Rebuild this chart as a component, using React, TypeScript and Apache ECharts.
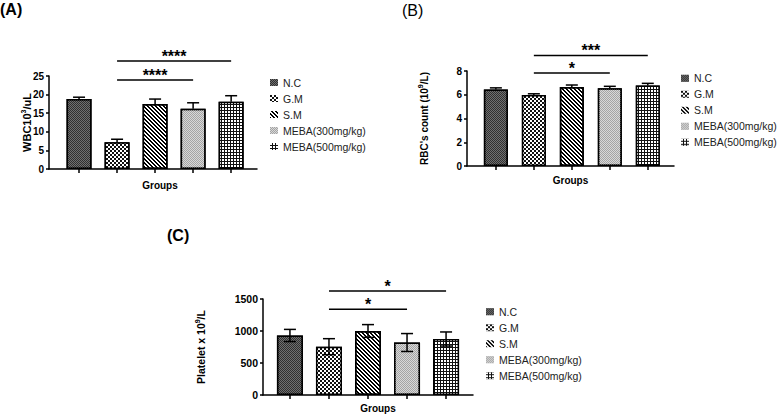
import React, { useEffect, useRef } from 'react';
import * as echarts from 'echarts';

// ---- data ----
const groups = ['N.C', 'G.M', 'S.M', 'MEBA(300mg/kg)', 'MEBA(500mg/kg)'];
const positions = [0, 1, 2, 3, 4];

const wbcMean = [18.8, 7.2, 17.5, 16.2, 18.1];
const wbcErr = [0.5, 0.8, 1.3, 1.6, 1.6];
const rbcMean = [6.45, 5.98, 6.65, 6.55, 6.78];
const rbcErr = [0.13, 0.1, 0.17, 0.16, 0.18];
const pltMean = [930, 755, 1000, 820, 875];
const pltErr = [95, 125, 100, 140, 110];

// significance brackets: [from group, to group, height]
const wbcSig = [[1, 4, 29], [1, 3, 23.9]];
const wbcSigLabels = ['****', '****'];
const rbcSig = [[1, 4, 9.3], [1, 3, 7.83]];
const rbcSigLabels = ['***', '*'];
const pltSig = [[1, 4, 1625], [1, 3, 1338]];
const pltSigLabels = ['*', '*'];

// y axis ranges: [min, max, interval]
const wbcAxis = [0, 25, 5];
const rbcAxis = [0, 8, 2];
const pltAxis = [0, 1500, 500];

const FONT = '"Liberation Sans", Arial, Helvetica, sans-serif';

const styles = [
  { color: '#303030', decal: { symbol: 'rect', symbolSize: 1, color: '#707070', dashArrayX: [[1, 1], [0, 1, 1, 0]], dashArrayY: [1, 0] } },
  { color: '#111111', decal: { symbol: 'rect', symbolSize: 1, color: '#ffffff', dashArrayX: [[2, 2], [0, 2, 2, 0]], dashArrayY: [2, 0] } },
  { color: '#ffffff', decal: { symbol: 'rect', symbolSize: 1, color: '#000000', dashArrayX: [[2, 2], [0, 1, 2, 1], [0, 2, 2, 0], [1, 2, 1, 0]], dashArrayY: [1, 0] } },
  { color: '#a4a4a4', decal: { symbol: 'rect', symbolSize: 1, color: '#d8d8d8', dashArrayX: [[1, 1], [0, 1, 1, 0]], dashArrayY: [1, 0] } },
  { color: '#111111', decal: { symbol: 'rect', symbolSize: 1, color: '#ffffff', dashArrayX: [2, 1], dashArrayY: [2, 1] } },
];

const panels = [
  {
    mean: wbcMean, err: wbcErr, sig: wbcSig, sigLabels: wbcSigLabels, axis: wbcAxis, both: false,
    grid: { left: 49, top: 76, width: 208, height: 93 }, xMin: -0.79, xMax: 4.68, barWidth: 25,
    yName: '{b|WBC10}{s|3}{b|/uL}', yNameSize: 11, yNameGap: 15, xNameGap: 11, xNamePad: [0, 0, 0, 14],
    legend: { left: 270, top: 76.5 }, tick: 10,
  },
  {
    mean: rbcMean, err: rbcErr, sig: rbcSig, sigLabels: rbcSigLabels, axis: rbcAxis, both: false,
    grid: { left: 467, top: 71, width: 207, height: 95 }, xMin: -0.76, xMax: 4.69, barWidth: 24,
    yName: "{b|RBC's count (10}{s|9}{b|/L)}", yNameSize: 10, yNameGap: 36, xNameGap: 9, xNamePad: [0, 0, 0, 0],
    legend: { left: 681, top: 72.3 }, tick: 10,
  },
  {
    mean: pltMean, err: pltErr, sig: pltSig, sigLabels: pltSigLabels, axis: pltAxis, both: true,
    grid: { left: 263, top: 299, width: 210, height: 96 }, xMin: -0.69, xMax: 4.69, barWidth: 26,
    yName: '{b|Platelet x 10}{s|9}{b|/L}', yNameSize: 10.5, yNameGap: 55, xNameGap: 8, xNamePad: [0, 0, 0, 20],
    legend: { left: 486, top: 305.7 }, tick: 10.5,
  },
];

const lineStyle = { color: '#000', width: 1.5 };

function errorRenderer(both: boolean) {
  return (params: any, api: any) => {
    const x = api.value(0);
    const v = api.value(1);
    const e = api.value(2);
    const top = api.coord([x, v + e]);
    const base = api.coord([x, both ? v - e : v]);
    const hw = 6;
    const st = { stroke: '#000', lineWidth: 1.5, fill: 'none' };
    const children: any[] = [
      { type: 'line', shape: { x1: top[0], y1: top[1], x2: base[0], y2: base[1] }, style: st },
      { type: 'line', shape: { x1: top[0] - hw, y1: top[1], x2: top[0] + hw, y2: top[1] }, style: st },
    ];
    if (both) {
      children.push({ type: 'line', shape: { x1: base[0] - hw, y1: base[1], x2: base[0] + hw, y2: base[1] }, style: st });
    }
    return { type: 'group', children };
  };
}

function sigRenderer(labels: string[]) {
  return (params: any, api: any) => {
    const a = api.coord([api.value(0), api.value(2)]);
    const b = api.coord([api.value(1), api.value(2)]);
    return {
      type: 'group',
      children: [
        { type: 'line', shape: { x1: a[0], y1: a[1], x2: b[0], y2: b[1] }, style: { stroke: '#000', lineWidth: 1.5 } },
        {
          type: 'text',
          style: {
            text: labels[params.dataIndex], x: (a[0] + b[0]) / 2, y: a[1] - 5,
            align: 'center', verticalAlign: 'middle', font: `bold 16px ${FONT}`, fill: '#000',
          },
        },
      ],
    };
  };
}

function buildOption() {
  const grid: any[] = [];
  const xAxis: any[] = [];
  const yAxis: any[] = [];
  const series: any[] = [];
  const legend: any[] = [];

  panels.forEach((p, pi) => {
    grid.push({ ...p.grid, containLabel: false });
    xAxis.push({
      type: 'value', gridIndex: pi, min: p.xMin, max: p.xMax,
      axisLine: { show: true, onZero: false, lineStyle },
      axisTick: { show: true, customValues: positions, length: 4, lineStyle },
      axisLabel: { show: false },
      splitLine: { show: false },
      name: 'Groups', nameLocation: 'middle', nameGap: p.xNameGap, nameMoveOverlap: false,
      nameTextStyle: { color: '#000', fontWeight: 'bold', fontSize: 10, fontFamily: FONT, padding: p.xNamePad },
    });
    yAxis.push({
      type: 'value', gridIndex: pi, min: p.axis[0], max: p.axis[1], interval: p.axis[2],
      axisLine: { show: true, onZero: false, lineStyle },
      axisTick: { show: true, length: 3, lineStyle },
      axisLabel: {
        color: '#000', fontWeight: 'bold', fontSize: p.tick, fontFamily: FONT, margin: 5,
        formatter: (v: number) => String(v),
      },
      splitLine: { show: false },
      name: p.yName, nameLocation: 'middle', nameGap: p.yNameGap, nameMoveOverlap: false,
      nameTextStyle: {
        color: '#000', fontWeight: 'bold', fontSize: p.yNameSize, fontFamily: FONT,
        rich: {
          b: { color: '#000', fontWeight: 'bold', fontSize: p.yNameSize, fontFamily: FONT, lineHeight: 14 },
          s: { color: '#000', fontWeight: 'bold', fontSize: 7, fontFamily: FONT, verticalAlign: 'top', lineHeight: 8 },
        },
      },
    });
    groups.forEach((g, i) => {
      series.push({
        type: 'bar', name: g, xAxisIndex: pi, yAxisIndex: pi,
        barWidth: p.barWidth, barGap: '-100%',
        data: [[positions[i], p.mean[i]]],
        itemStyle: { color: styles[i].color, decal: styles[i].decal, borderColor: '#000', borderWidth: 1.5 },
        emphasis: { disabled: true },
      });
    });
    series.push({
      type: 'custom', xAxisIndex: pi, yAxisIndex: pi, z: 5,
      data: positions.map((x, i) => [x, p.mean[i], p.err[i]]),
      encode: { x: 0, y: 1 },
      renderItem: errorRenderer(p.both),
    });
    series.push({
      type: 'custom', xAxisIndex: pi, yAxisIndex: pi, z: 5, clip: false,
      data: p.sig,
      encode: { x: [0, 1], y: 2 },
      renderItem: sigRenderer(p.sigLabels),
    });
    legend.push({
      orient: 'vertical', left: p.legend.left, top: p.legend.top, padding: 0,
      itemWidth: 8, itemHeight: 7, itemGap: 4, icon: 'rect',
      data: groups, selectedMode: false,
      textStyle: { fontSize: 10.5, color: '#222', lineHeight: 12, fontFamily: FONT },
      itemStyle: { borderWidth: 0 },
    });
  });

  return {
    animation: false,
    backgroundColor: '#fff',
    textStyle: { fontFamily: FONT },
    grid, xAxis, yAxis, series, legend,
    graphic: [
      { type: 'text', left: 0, top: 1, style: { text: '(A)', font: `bold 16px ${FONT}`, fill: '#000' } },
      { type: 'text', left: 402, top: 2, style: { text: '(B)', font: `16px ${FONT}`, fill: '#000' } },
      { type: 'text', left: 167, top: 227, style: { text: '(C)', font: `bold 16px ${FONT}`, fill: '#000' } },
    ],
  };
}

export default function App() {
  const ref = useRef<HTMLDivElement>(null);
  useEffect(() => {
    if (!ref.current) return;
    const chart = echarts.init(ref.current, undefined, { renderer: 'svg' });
    chart.setOption(buildOption() as any);
    return () => chart.dispose();
  }, []);
  return <div ref={ref} style={{ position: 'absolute', left: 0, top: 0, width: 777, height: 414 }} />;
}
